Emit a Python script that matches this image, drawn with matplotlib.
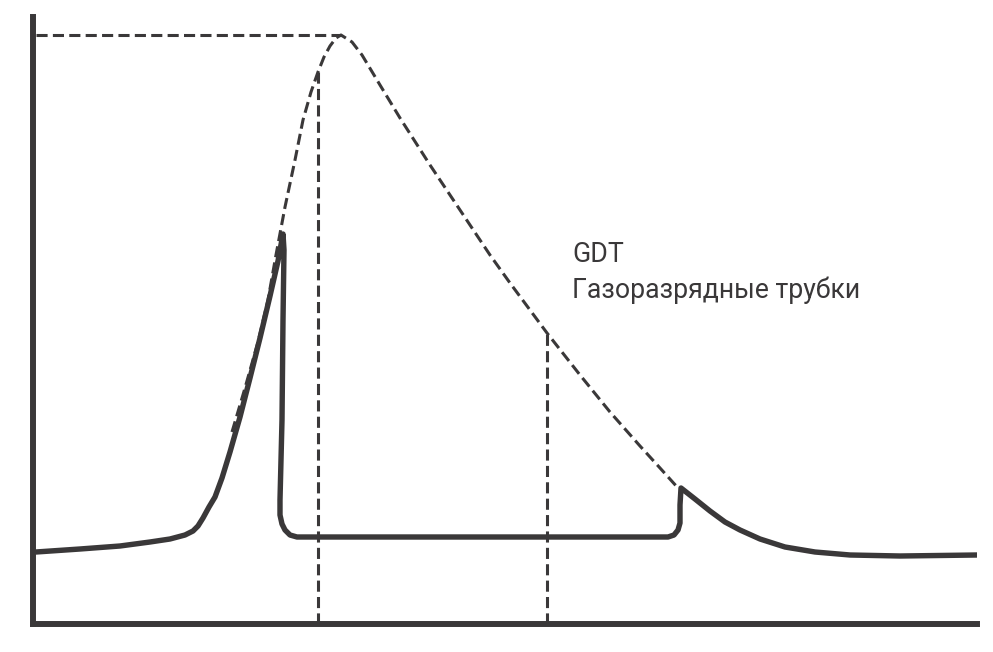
import matplotlib
matplotlib.use("Agg")
import matplotlib.pyplot as plt

plt.rcParams['lines.scale_dashes'] = False

INK = '#3a3839'

# GDT response (solid curve): time, voltage (arbitrary units)
gdt_t = [3, 47, 87, 117, 137, 152, 160, 165, 170, 176, 182, 189, 197, 207, 217, 227, 237, 245, 250,
         251, 250, 249, 247, 247, 249, 252, 257, 264, 627, 635, 641, 645, 647, 647, 648,
         662, 677, 692, 707, 727, 752, 782, 817, 867, 944]
gdt_v = [72, 75, 78, 82, 85, 89, 93, 98, 106, 117, 127, 146, 172, 207, 246, 286, 328, 363, 390,
         374, 304, 204, 124, 109, 100, 94, 89, 87, 87, 87, 89, 94, 101, 119, 136,
         125, 113, 102, 94, 85, 77, 72, 69, 68, 69]

# Surge waveform without protection (dashed curve)
surge_t = [199, 212, 225, 235, 243, 252, 262, 270, 278, 285, 291, 297, 303, 308,
           319, 329, 347, 367, 397, 427, 457, 477, 514, 547, 577, 607, 627, 645]
surge_v = [192, 236, 282, 324, 369, 417, 464, 504, 532, 552, 567, 578, 586, 589,
           582, 569, 539, 506, 459, 414, 369, 341, 291, 249, 212, 178, 156, 136]

# Reference lines
peak_level = 589
peak_t = 308
marker_t = [285, 514]
marker_v = [552, 291]

label_lines = ["GDT", "Газоразрядные трубки"]

fig = plt.figure(figsize=(9.93, 6.52), dpi=100)
ax = fig.add_axes([33/993, 28/652, 944/993, 607/652])
ax.set_xlim(0, 944)
ax.set_ylim(0, 607)

dash = (0, (8.0, 3.8))
ax.plot([3, peak_t], [peak_level, peak_level], color=INK, lw=2.2, linestyle=dash)
for t, v in zip(marker_t, marker_v):
    ax.plot([t, t], [0, v], color=INK, lw=2.2, linestyle=dash)
ax.plot(surge_t, surge_v, color=INK, lw=2.2, linestyle=dash)

ax.plot(gdt_t, gdt_v, color=INK, lw=3.9, solid_joinstyle='round', solid_capstyle='round')

fam = ['Roboto', 'DejaVu Sans']
ax.text(539, 362, label_lines[0], fontsize=19.2, family=fam, color=INK, va='baseline')
ax.text(539, 326, label_lines[1], fontsize=19.2, family=fam, color=INK, va='baseline')

for s in ['top', 'right']:
    ax.spines[s].set_visible(False)
for s in ['left', 'bottom']:
    ax.spines[s].set_linewidth(4.3)
    ax.spines[s].set_color(INK)
ax.set_xticks([])
ax.set_yticks([])

fig.savefig('out.png', dpi=100)
